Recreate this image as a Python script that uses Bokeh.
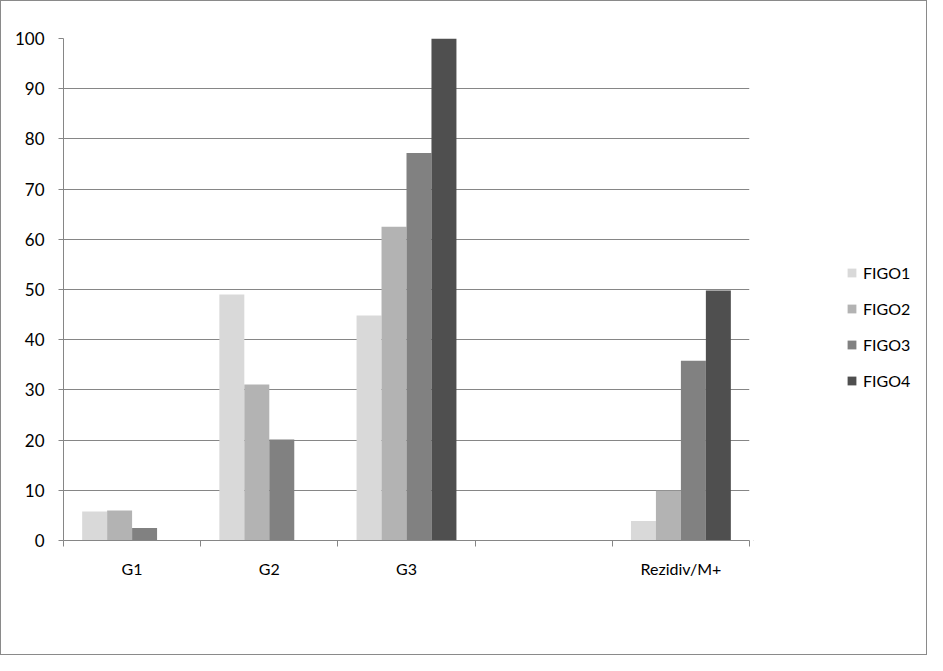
from bokeh.plotting import figure
from bokeh.models import ColumnDataSource, FixedTicker, Legend, LegendItem, Range1d
from bokeh.layouts import row
from bokeh.transform import dodge
from bokeh.embed import file_html
from bokeh.resources import INLINE

categories = ["G1", "G2", "G3", "", "Rezidiv/M+"]
series = ["FIGO1", "FIGO2", "FIGO3", "FIGO4"]
figo1 = [5.8, 49.0, 44.8, 0, 3.9]
figo2 = [6.0, 31.1, 62.5, 0, 9.9]
figo3 = [2.5, 20.1, 77.2, 0, 35.8]
figo4 = [0, 0, 100.0, 0, 49.8]
colors = ["#D9D9D9", "#B3B3B3", "#818181", "#4F4F4F"]

xpos = [i + 0.5 for i in range(len(categories))]
src = ColumnDataSource(dict(x=xpos, FIGO1=figo1, FIGO2=figo2, FIGO3=figo3, FIGO4=figo4))

FONT = "Lato"
H = 653
p = figure(width=752, height=H, output_backend="svg", toolbar_location=None,
           x_range=Range1d(0, len(categories)), y_range=Range1d(0, 100),
           min_border_left=62, min_border_right=4, min_border_top=37, min_border_bottom=114)
p.outline_line_color = None
p.background_fill_color = "white"

bw = 0.182
offsets = [-1.5 * bw, -0.5 * bw, 0.5 * bw, 1.5 * bw]
for s, c, off in zip(series, colors, offsets):
    p.vbar(x=dodge("x", off), top=s, width=bw, source=src,
           fill_color=c, line_color=None)

# x axis: labels at centers, tick marks at category boundaries
xt = FixedTicker(ticks=xpos, minor_ticks=list(range(len(categories) + 1)))
p.xaxis.ticker = xt
p.xaxis.major_label_overrides = {x: c for x, c in zip(xpos, categories)}
p.xaxis.major_tick_out = 0
p.xaxis.major_tick_in = 0
p.xaxis.minor_tick_out = 6
p.xaxis.minor_tick_in = 0
p.xaxis.minor_tick_line_color = "#868686"
p.xaxis.axis_line_color = "#868686"
p.xaxis.major_label_standoff = 12
p.xaxis.major_label_text_font = FONT
p.xaxis.major_label_text_font_size = "16px"
p.xaxis.major_label_text_color = "#000000"
p.xgrid.grid_line_color = None

p.yaxis.ticker = FixedTicker(ticks=list(range(0, 101, 10)))
p.yaxis.minor_tick_line_color = None
p.yaxis.major_tick_out = 5
p.yaxis.major_tick_in = 0
p.yaxis.major_tick_line_color = "#868686"
p.yaxis.axis_line_color = "#868686"
p.yaxis.major_label_standoff = 14
p.yaxis.major_label_text_font = FONT
p.yaxis.major_label_text_font_size = "17px"
p.yaxis.major_label_text_color = "#000000"
p.ygrid.grid_line_color = "#868686"
p.ygrid.grid_line_width = 1

# legend panel (a second, axis-less figure to the right of the plot);
# its swatch renderers sit outside the visible range, only the legend shows
q = figure(width=173, height=H, output_backend="svg", toolbar_location=None,
           x_axis_type=None, y_axis_type=None,
           x_range=Range1d(0, 1), y_range=Range1d(0, 1),
           min_border_left=0, min_border_right=0, min_border_top=0, min_border_bottom=0)
q.outline_line_color = None
q.grid.grid_line_color = None
items = []
for s, c in zip(series, colors):
    r = q.vbar(x=[-5], top=[-5], width=0.1, fill_color=c, line_color=None)
    items.append(LegendItem(label=s, renderers=[r]))

legend = Legend(items=items, location=(93, 150), orientation="vertical",
                label_text_font=FONT, label_text_font_size="16px",
                label_text_color="#000000", glyph_width=11, glyph_height=11,
                spacing=17, label_standoff=6, border_line_color=None,
                background_fill_alpha=0, padding=0, margin=0)
q.add_layout(legend, "center")

layout = row(p, q, styles={"border": "1px solid #8a8a8a"})

open("out.html", "w").write(file_html(layout, INLINE))
